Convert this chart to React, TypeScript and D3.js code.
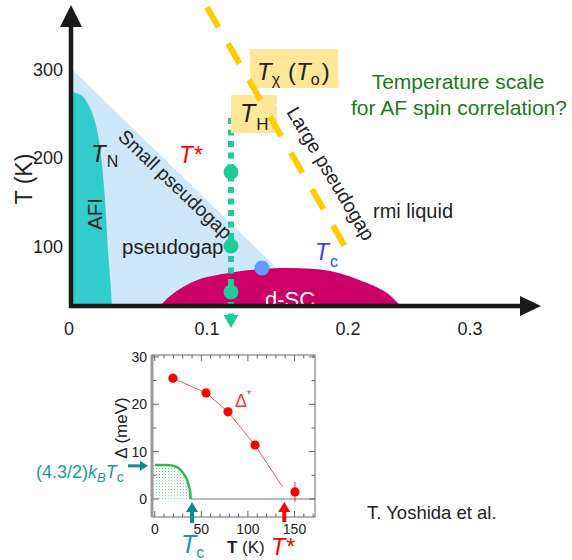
import React from "react";
import * as d3 from "d3";

// ---------- main phase diagram data ----------
const pTicks = [0, 0.1, 0.2, 0.3];
const tTicks = [100, 200, 300];
// Neel temperature boundary (AFI)
const afiP = [0, 0.0037, 0.0081, 0.0125, 0.0169, 0.0199, 0.0228, 0.025, 0.0272, 0.0294, 0.0301];
const afiT = [275, 274, 270.5, 261.5, 245.7, 226.4, 192.5, 152.9, 96.3, 51.1, 33];
// T* line (small pseudogap)
const starP = [0, 0.177];
const starT = [302, 33];
// d-SC dome
const scP = [0.0654, 0.0728, 0.0824, 0.0949, 0.1071, 0.1305, 0.1596, 0.1872, 0.2156, 0.232, 0.243];
const scT = [33, 44.3, 54.5, 63.5, 68, 73.7, 76, 72.6, 59, 47.7, 33];
// T_chi (T_o) dashed line
const chiP = [0.1, 0.198];
const chiT = [371, 100];
// measured cut
const cutP = 0.117;
const cutT = [245.7, 22.8, 8]; // top, arrow base, arrow tip
const cutPointsT = [184.6, 100.9, 48.8];
const tcDotP = [0.139];
const tcDotT = [76];

// ---------- inset data ----------
const insetTTicks = [0, 50, 100, 150];
const insetDTicks = [0, 10, 20, 30];
const pgT = [19.5, 55, 78.6, 107.6, 150.5];
const pgD = [25.5, 22.4, 18.4, 11.4, 1.5];
const pgErr = [0, 0, 0, 0, 2.1];
const fitT = [19.5, 55, 78.6, 107.6, 136.6];
const fitD = [25.5, 22.4, 18.4, 11.4, 2.7];
const bcsT = [0, 12, 20, 25, 29, 32, 35, 37, 38.3, 38.5];
const bcsD = [7.2, 7.2, 7.0, 6.6, 5.8, 5.0, 3.8, 2.4, 0.8, 0];
const gapArrowD = 7;
const tcArrowT = 40;
const tStarArrowT = 139;

const FONT = "'Liberation Sans', Arial, Helvetica, sans-serif";

export default function App() {
  const x = d3.scaleLinear().domain(pTicks).range([71, 207, 348, 470]);
  const y = d3.scaleLinear().domain([33, 300]).range([306, 70]);
  const ln = d3.line<[number, number]>().x((d) => x(d[0])).y((d) => y(d[1]));
  const lnC = d3
    .line<[number, number]>()
    .x((d) => x(d[0]))
    .y((d) => y(d[1]))
    .curve(d3.curveCatmullRom);

  const afiPts = afiP.map((p, i) => [p, afiT[i]] as [number, number]);
  const afiPath = lnC(afiPts) + `L${x(0) - 2},${y(33)}L${x(0) - 2},${y(afiT[0])}Z`;
  const starPts = starP.map((p, i) => [p, starT[i]] as [number, number]);
  const bluePath = ln(starPts) + `L${x(0) - 2},${y(33)}Z`;
  const scPts = scP.map((p, i) => [p, scT[i]] as [number, number]);
  const domePath = lnC(scPts) + "Z";
  const chiPts = chiP.map((p, i) => [p, chiT[i]] as [number, number]);

  const cx = x(cutP);

  // inset scales
  const xi = d3.scaleLinear().domain([-3, 172]).range([152, 315]);
  const yi = d3.scaleLinear().domain([-3.8, 30.4]).range([517, 355]);
  const lnI = d3.line<[number, number]>().x((d) => xi(d[0])).y((d) => yi(d[1]));
  const bcsPts = bcsT.map((t, i) => [t, bcsD[i]] as [number, number]);
  const bcsLine = d3
    .line<[number, number]>()
    .x((d) => xi(d[0]))
    .y((d) => yi(d[1]))
    .curve(d3.curveMonotoneX)(bcsPts) as string;
  const bcsArea = d3
    .area<[number, number]>()
    .x((d) => xi(d[0]))
    .y0(yi(0))
    .y1((d) => yi(d[1]))
    .curve(d3.curveMonotoneX)([[-3, 7.2], ...bcsPts]) as string;
  const fitPts = fitT.map((t, i) => [t, fitD[i]] as [number, number]);

  const dTicks = d3.range(0, 31, 5);
  const tTicksMinor = d3.range(0, 171, 10);

  const dark = "#222";

  return (
    <svg
      width={572}
      height={560}
      style={{ position: "absolute", left: 0, top: 0, background: "#fff" }}
      fontFamily={FONT}
    >
      <defs>
        <pattern id="stip" width="3" height="3" patternUnits="userSpaceOnUse">
          <rect x="0" y="0" width="1" height="1" fill="#66cc88" />
          <rect x="1.5" y="1.5" width="0.7" height="0.7" fill="#99ddaa" />
        </pattern>
      </defs>
      <rect x={0} y={0} width={572} height={560} fill="#fff" />

      {/* regions */}
      <path d={bluePath} fill="#cce8fa" />
      <path d={afiPath} fill="#33cccc" />
      <path d={domePath} fill="#cc0066" />

      {/* green dotted cut with arrow */}
      <line
        x1={cx}
        x2={cx}
        y1={y(cutT[0])}
        y2={y(cutT[1])}
        stroke="#1fcc99"
        strokeWidth={6}
        strokeDasharray="6 5.5"
      />
      <polygon
        points={`${cx - 7.5},${y(cutT[1])} ${cx + 7.5},${y(cutT[1])} ${cx},${y(cutT[2])}`}
        fill="#1fcc99"
      />

      {/* label boxes */}
      <rect x={250} y={49} width={88} height={39} fill="#ffe699" />
      <rect x={231} y={95} width={46} height={38} fill="#ffe699" />

      {/* Large pseudogap white backing */}
      <g transform="translate(286,112) rotate(59)">
        <rect x={-12} y={-22} width={165} height={27} fill="#fff" />
      </g>

      {/* T_chi dashed line */}
      <path
        d={ln(chiPts) as string}
        stroke="#ffcc00"
        strokeWidth={6}
        strokeDasharray="23 19"
        fill="none"
      />

      {/* texts */}
      <text x={257} y={80} fontSize={24} fill={dark}>
        <tspan fontStyle="italic">T</tspan>
        <tspan fontSize={16} dy={5}>χ</tspan>
        <tspan dy={-5} dx={8}>(</tspan>
        <tspan fontStyle="italic">T</tspan>
        <tspan fontSize={16} dy={5}>o</tspan>
        <tspan dy={-5} dx={2}>)</tspan>
      </text>
      <text x={240} y={122} fontSize={25} fill={dark}>
        <tspan fontStyle="italic">T</tspan>
        <tspan fontSize={17} dy={8} dx={1}>H</tspan>
      </text>
      <text transform="translate(286,112) rotate(59)" fontSize={19.5} fill={dark}>
        Large pseudogap
      </text>
      <text x={373} y={218} fontSize={20} fill={dark}>
        rmi liquid
      </text>
      <text transform="translate(117,138) rotate(43.6)" fontSize={19.2} fill={dark}>
        Small pseudogap
      </text>
      <text x={122} y={254} fontSize={20.5} fill={dark}>
        pseudogap
      </text>
      <text transform="translate(102,214) rotate(-90)" fontSize={20.5} fill={dark} textAnchor="middle">
        AFI
      </text>
      <text x={91} y={162} fontSize={24} fill={dark}>
        <tspan fontStyle="italic">T</tspan>
        <tspan fontSize={16} dy={5} dx={1}>N</tspan>
      </text>
      <text x={179} y={163} fontSize={23} fill="#ff0000" fontStyle="italic">
        T*
      </text>
      <text x={315} y={260} fontSize={23} fill="#3344ff">
        <tspan fontStyle="italic">T</tspan>
        <tspan fontSize={16} dy={7} dx={1}>c</tspan>
      </text>
      <text x={265} y={307} fontSize={22} fill="#fff">
        d-SC
      </text>
      <text x={458} y={89} fontSize={21} fill="#1a7a1a" textAnchor="middle">
        Temperature scale
      </text>
      <text x={459} y={115} fontSize={21} fill="#1a7a1a" textAnchor="middle">
        for AF spin correlation?
      </text>

      {/* dots */}
      {cutPointsT.map((t, i) => (
        <circle key={i} cx={cx} cy={y(t)} r={7.5} fill="#1fcc99" />
      ))}
      {tcDotP.map((p, i) => (
        <circle key={i} cx={x(p)} cy={y(tcDotT[i])} r={7.5} fill="#6699ff" />
      ))}

      {/* axes */}
      <line x1={71} x2={71} y1={308} y2={24} stroke="#1a1a1a" strokeWidth={4.5} />
      <polygon points="60,27 82,27 71,5" fill="#1a1a1a" />
      <line x1={69} x2={522} y1={306} y2={306} stroke="#1a1a1a" strokeWidth={4.5} />
      <polygon points="520,296 520,316 541,306" fill="#1a1a1a" />
      {tTicks.map((t) => (
        <text key={t} x={63} y={y(t) + 6} fontSize={18} fill={dark} textAnchor="end">
          {t}
        </text>
      ))}
      {pTicks.map((p) => (
        <text key={p} x={x(p) - (p === 0 ? 2 : 0)} y={335} fontSize={18} fill={dark} textAnchor="middle">
          {p === 0 ? "0" : p.toFixed(1)}
        </text>
      ))}
      <text transform="translate(32,179) rotate(-90)" fontSize={23} fill={dark} textAnchor="middle">
        T (K)
      </text>

      {/* ---------- inset ---------- */}
      <path d={bcsArea} fill="url(#stip)" opacity={0.85} />
      <line x1={xi(38.5)} x2={315} y1={yi(0)} y2={yi(0)} stroke="#777" strokeWidth={1.2} />
      <path d={bcsLine} fill="none" stroke="#2dbb4f" strokeWidth={2.5} />
      <path d={lnI(fitPts) as string} fill="none" stroke="#ff5050" strokeWidth={1} />
      {pgT.map((t, i) =>
        pgErr[i] > 0 ? (
          <line
            key={"e" + i}
            x1={xi(t)}
            x2={xi(t)}
            y1={yi(pgD[i] + pgErr[i])}
            y2={yi(pgD[i] - pgErr[i])}
            stroke="#ff3030"
            strokeWidth={1}
          />
        ) : null
      )}
      {pgT.map((t, i) => (
        <circle key={i} cx={xi(t)} cy={yi(pgD[i])} r={4.6} fill="#ff0000" />
      ))}
      {/* frame */}
      <rect x={152} y={355} width={163} height={162} fill="none" stroke="#808080" strokeWidth={1.2} />
      <line x1={152} x2={152} y1={355} y2={517} stroke="#999" strokeWidth={3} />
      {dTicks.map((d) => {
        const l = d % 10 === 0 ? 6 : 3.5;
        return (
          <g key={"d" + d} stroke="#666" strokeWidth={1}>
            <line x1={153} x2={153 + l} y1={yi(d)} y2={yi(d)} />
            <line x1={315 - l} x2={315} y1={yi(d)} y2={yi(d)} />
          </g>
        );
      })}
      {tTicksMinor.map((t) => {
        const l = t % 50 === 0 ? 6 : 3.5;
        return (
          <g key={"t" + t} stroke="#666" strokeWidth={1}>
            <line x1={xi(t)} x2={xi(t)} y1={355} y2={355 + l} />
            <line x1={xi(t)} x2={xi(t)} y1={517 - l} y2={517} />
          </g>
        );
      })}
      {insetDTicks.map((d) => (
        <text key={d} x={147} y={yi(d) + 5} fontSize={14} fill={dark} textAnchor="end">
          {d}
        </text>
      ))}
      {insetTTicks.map((t) => (
        <text key={t} x={xi(t)} y={534} fontSize={14} fill={dark} textAnchor="middle">
          {t}
        </text>
      ))}
      <text transform="translate(127,428) rotate(-90)" fontSize={17} fill={dark} textAnchor="middle">
        Δ (meV)
      </text>
      <text x={227} y={553} fontSize={17} fill={dark}>
        <tspan fontWeight="bold">T</tspan>
        <tspan> (K)</tspan>
      </text>
      <text x={235} y={407} fontSize={18} fill="#ff3333">
        Δ<tspan fontSize={11} dy={-9}>*</tspan>
      </text>

      {/* inset arrows & labels */}
      <line x1={128} x2={141} y1={yi(gapArrowD)} y2={yi(gapArrowD)} stroke="#138a8a" strokeWidth={3} />
      <polygon
        points={`${140},${yi(gapArrowD) - 5} ${140},${yi(gapArrowD) + 5} ${148},${yi(gapArrowD)}`}
        fill="#138a8a"
      />
      <text x={36} y={478} fontSize={18} fill="#1a9a9a">
        (4.3/2)<tspan fontStyle="italic">k</tspan>
        <tspan fontStyle="italic" fontSize={13} dy={4}>B</tspan>
        <tspan fontStyle="italic" fontSize={18} dy={-4}>T</tspan>
        <tspan fontSize={14} dy={4}>c</tspan>
      </text>

      <line x1={xi(tcArrowT)} x2={xi(tcArrowT)} y1={511} y2={523} stroke="#138a8a" strokeWidth={4} />
      <polygon
        points={`${xi(tcArrowT) - 6},${512} ${xi(tcArrowT) + 6},${512} ${xi(tcArrowT)},${502}`}
        fill="#138a8a"
      />
      <text x={181} y={553} fontSize={25} fill="#1a9a9a">
        <tspan fontStyle="italic">T</tspan>
        <tspan fontSize={16} dy={5}>c</tspan>
      </text>

      <line x1={xi(tStarArrowT)} x2={xi(tStarArrowT)} y1={511} y2={522} stroke="#ff0000" strokeWidth={4} />
      <polygon
        points={`${xi(tStarArrowT) - 6},${512} ${xi(tStarArrowT) + 6},${512} ${xi(tStarArrowT)},${502}`}
        fill="#ff0000"
      />
      <text x={271} y={555} fontSize={23.5} fill="#ff0000" fontStyle="italic">
        T*
      </text>

      <text x={367} y={519} fontSize={18.5} fill={dark}>
        T. Yoshida et al.
      </text>
    </svg>
  );
}
